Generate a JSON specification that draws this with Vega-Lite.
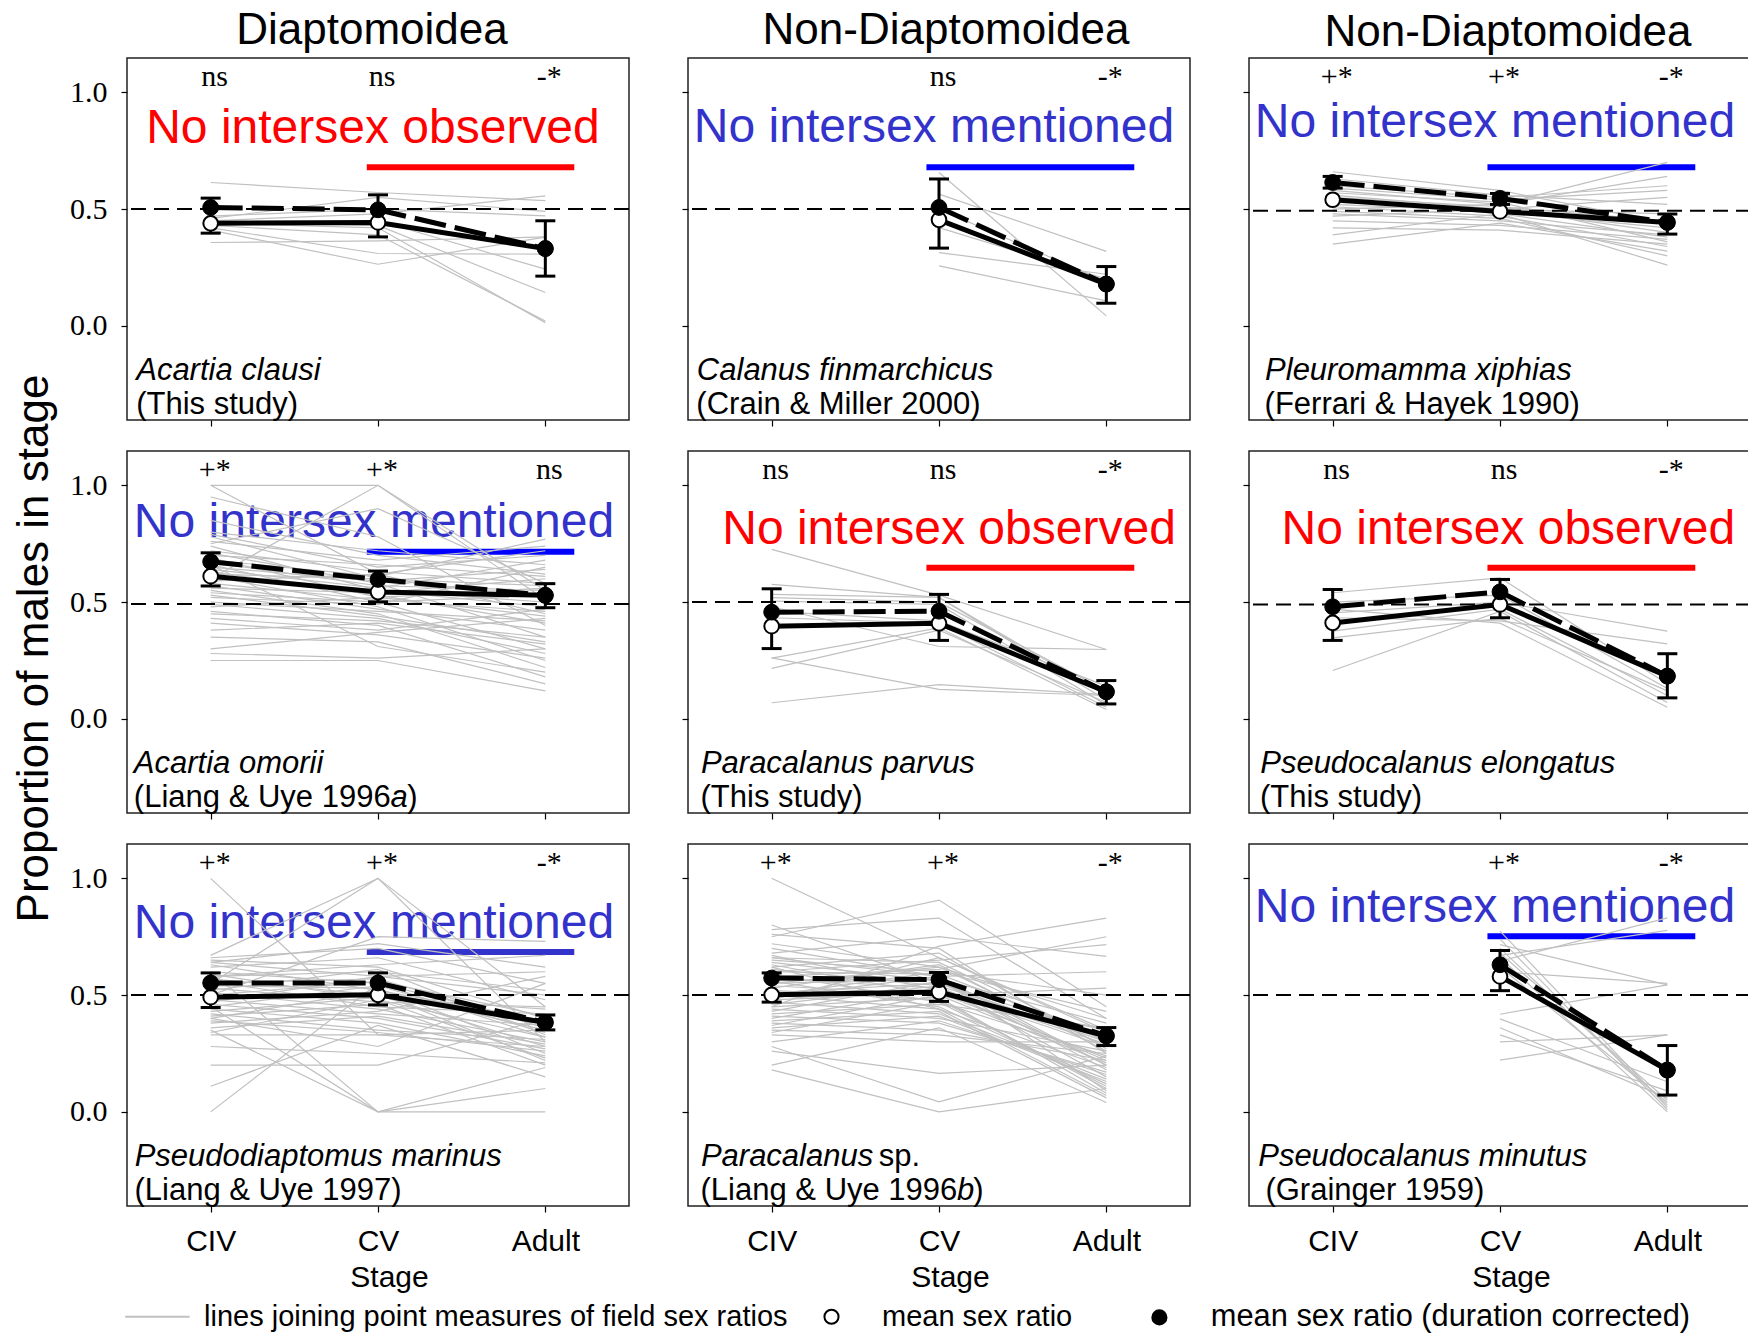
{
"$schema":"https://vega.github.io/schema/vega-lite/v6.json",
"background":"white",
"padding":{"left":11,"top":8,"right":0,"bottom":0},
"columns":3,
"spacing":{"row":31,"column":59},
"bounds":"flush",
"resolve":{"scale":{"x":"independent","y":"independent","fill":"independent","stroke":"independent","shape":"independent","color":"independent"},"axis":{"x":"independent","y":"independent"},"legend":{"fill":"independent","stroke":"independent","shape":"independent","color":"independent"}},
"config":{
 "view":{"stroke":"#222","strokeWidth":1.5},
 "font":"Liberation Sans",
 "title":{"font":"Liberation Sans","fontSize":44,"fontWeight":"normal","color":"black","anchor":"middle","baseline":"alphabetic","offset":5},
 "axis":{"domain":false,"grid":false,"tickColor":"black","tickWidth":1.2,"tickSize":6,"labelColor":"black","titleColor":"black","titleFontWeight":"normal","labelFlush":false,"labelOverlap":false},
 "axisX":{"labelFont":"Liberation Sans","labelFontSize":30,"labelPadding":14,"titleFont":"Liberation Sans","titleFontSize":30,"titlePadding":6,"titleX":262},
 "axisY":{"labelFont":"Liberation Serif","labelFontSize":30,"labelPadding":14,"titleFont":"Liberation Sans","titleFontSize":44,"titleX":-80,"titleY":197,"titleBaseline":"alphabetic"},
 "text":{"font":"Liberation Sans"}
},
"datasets":{
"stages":[{"k":"CIV","n":1},{"k":"CV","n":2},{"k":"Adult","n":3}],
"lines":[
{"p":1,"i":1,"CIV":0.614,"CV":0.571,"Adult":0.536},{"p":1,"i":2,"CIV":0.46,"CV":0.55,"Adult":0.49},{"p":1,"i":3,"CIV":0.45,"CV":0.48,"Adult":0.557},{"p":1,"i":4,"CIV":0.44,"CV":0.42,"Adult":0.014},{"p":1,"i":5,"CIV":0.43,"CV":0.39,"Adult":0.021},{"p":1,"i":6,"CIV":0.42,"CV":0.31,"Adult":0.307},{"p":1,"i":7,"CIV":0.357,"CV":0.364,"Adult":0.381},{"p":1,"i":8,"CIV":0.41,"CV":0.264,"Adult":0.38},{"p":1,"i":9,"CIV":0.45,"CV":0.43,"Adult":0.143},{"p":1,"i":10,"CIV":0.44,"CV":0.45,"Adult":0.243},{"p":1,"i":11,"CIV":0.47,"CV":0.5,"Adult":0.471},
{"p":2,"i":1,"CV":0.657,"Adult":0.043},{"p":2,"i":2,"CV":0.564,"Adult":0.319},{"p":2,"i":3,"CV":0.421,"Adult":0.2},{"p":2,"i":4,"CV":0.314,"Adult":0.221},{"p":2,"i":5,"CV":0.257,"Adult":0.107},{"p":2,"i":6,"CV":0.5,"Adult":0.19},
{"p":3,"i":1,"CIV":0.66,"CV":0.58,"Adult":0.44},{"p":3,"i":2,"CIV":0.63,"CV":0.56,"Adult":0.52},{"p":3,"i":3,"CIV":0.6,"CV":0.55,"Adult":0.6},{"p":3,"i":4,"CIV":0.58,"CV":0.52,"Adult":0.7},{"p":3,"i":5,"CIV":0.57,"CV":0.53,"Adult":0.36},{"p":3,"i":6,"CIV":0.56,"CV":0.5,"Adult":0.4},{"p":3,"i":7,"CIV":0.55,"CV":0.51,"Adult":0.45},{"p":3,"i":8,"CIV":0.54,"CV":0.48,"Adult":0.38},{"p":3,"i":9,"CIV":0.53,"CV":0.5,"Adult":0.55},{"p":3,"i":10,"CIV":0.52,"CV":0.49,"Adult":0.42},{"p":3,"i":11,"CIV":0.51,"CV":0.47,"Adult":0.34},{"p":3,"i":12,"CIV":0.5,"CV":0.52,"Adult":0.64},{"p":3,"i":13,"CIV":0.49,"CV":0.46,"Adult":0.3},{"p":3,"i":14,"CIV":0.48,"CV":0.45,"Adult":0.39},{"p":3,"i":15,"CIV":0.47,"CV":0.5,"Adult":0.48},{"p":3,"i":16,"CIV":0.42,"CV":0.41,"Adult":0.35},{"p":3,"i":17,"CIV":0.39,"CV":0.48,"Adult":0.26},{"p":3,"i":18,"CIV":0.35,"CV":0.44,"Adult":0.32},{"p":3,"i":19,"CIV":0.59,"CV":0.54,"Adult":0.58},{"p":3,"i":20,"CIV":0.45,"CV":0.43,"Adult":0.37},
{"p":4,"i":1,"CIV":1.0,"CV":1.0,"Adult":0.55},{"p":4,"i":2,"CIV":1.0,"CV":0.62,"Adult":0.45},{"p":4,"i":3,"CIV":0.95,"CV":0.78,"Adult":0.4},{"p":4,"i":4,"CIV":0.85,"CV":0.7,"Adult":0.62},{"p":4,"i":5,"CIV":0.8,"CV":0.72,"Adult":0.66},{"p":4,"i":6,"CIV":0.79,"CV":0.65,"Adult":0.7},{"p":4,"i":7,"CIV":0.78,"CV":0.6,"Adult":0.52},{"p":4,"i":8,"CIV":0.76,"CV":0.68,"Adult":0.74},{"p":4,"i":9,"CIV":0.74,"CV":0.55,"Adult":0.48},{"p":4,"i":10,"CIV":0.72,"CV":0.63,"Adult":0.58},{"p":4,"i":11,"CIV":0.71,"CV":0.58,"Adult":0.35},{"p":4,"i":12,"CIV":0.7,"CV":0.66,"Adult":0.61},{"p":4,"i":13,"CIV":0.69,"CV":0.52,"Adult":0.44},{"p":4,"i":14,"CIV":0.68,"CV":0.61,"Adult":0.77},{"p":4,"i":15,"CIV":0.67,"CV":0.57,"Adult":0.55},{"p":4,"i":16,"CIV":0.66,"CV":0.5,"Adult":0.3},{"p":4,"i":17,"CIV":0.65,"CV":0.59,"Adult":0.64},{"p":4,"i":18,"CIV":0.64,"CV":0.56,"Adult":0.68},{"p":4,"i":19,"CIV":0.63,"CV":0.53,"Adult":0.41},{"p":4,"i":20,"CIV":0.62,"CV":0.6,"Adult":0.57},{"p":4,"i":21,"CIV":0.61,"CV":0.48,"Adult":0.25},{"p":4,"i":22,"CIV":0.6,"CV":0.55,"Adult":0.5},{"p":4,"i":23,"CIV":0.59,"CV":0.62,"Adult":0.72},{"p":4,"i":24,"CIV":0.58,"CV":0.51,"Adult":0.46},{"p":4,"i":25,"CIV":0.57,"CV":0.47,"Adult":0.38},{"p":4,"i":26,"CIV":0.56,"CV":0.54,"Adult":0.6},{"p":4,"i":27,"CIV":0.55,"CV":0.45,"Adult":0.22},{"p":4,"i":28,"CIV":0.54,"CV":0.5,"Adult":0.53},{"p":4,"i":29,"CIV":0.53,"CV":0.44,"Adult":0.33},{"p":4,"i":30,"CIV":0.52,"CV":0.49,"Adult":0.65},{"p":4,"i":31,"CIV":0.5,"CV":0.46,"Adult":0.42},{"p":4,"i":32,"CIV":0.49,"CV":0.43,"Adult":0.28},{"p":4,"i":33,"CIV":0.48,"CV":0.52,"Adult":0.56},{"p":4,"i":34,"CIV":0.46,"CV":0.4,"Adult":0.18},{"p":4,"i":35,"CIV":0.45,"CV":0.42,"Adult":0.35},{"p":4,"i":36,"CIV":0.43,"CV":0.38,"Adult":0.47},{"p":4,"i":37,"CIV":0.41,"CV":0.36,"Adult":0.26},{"p":4,"i":38,"CIV":0.38,"CV":0.41,"Adult":0.32},{"p":4,"i":39,"CIV":0.35,"CV":0.33,"Adult":0.15},{"p":4,"i":40,"CIV":0.3,"CV":0.37,"Adult":0.43},{"p":4,"i":41,"CIV":0.28,"CV":0.26,"Adult":0.3},{"p":4,"i":42,"CIV":0.25,"CV":0.25,"Adult":0.12},{"p":4,"i":43,"CIV":0.6,"CV":1.0,"Adult":0.51},{"p":4,"i":44,"CIV":0.75,"CV":0.9,"Adult":0.58},{"p":4,"i":45,"CIV":0.66,"CV":0.31,"Adult":0.2},
{"p":5,"i":1,"CIV":0.726,"CV":0.53,"Adult":0.297},{"p":5,"i":2,"CIV":0.576,"CV":0.52,"Adult":0.1},{"p":5,"i":3,"CIV":0.533,"CV":0.52,"Adult":0.08},{"p":5,"i":4,"CIV":0.519,"CV":0.5,"Adult":0.12},{"p":5,"i":5,"CIV":0.504,"CV":0.49,"Adult":0.06},{"p":5,"i":6,"CIV":0.433,"CV":0.41,"Adult":0.05},{"p":5,"i":7,"CIV":0.26,"CV":0.39,"Adult":0.04},{"p":5,"i":8,"CIV":0.216,"CV":0.38,"Adult":0.07},{"p":5,"i":9,"CIV":0.069,"CV":0.147,"Adult":0.104},{"p":5,"i":10,"CIV":0.261,"CV":0.126,"Adult":0.1},{"p":5,"i":11,"CIV":0.46,"CV":0.42,"Adult":0.14},{"p":5,"i":12,"CIV":0.48,"CV":0.31,"Adult":0.297},
{"p":6,"i":1,"CIV":0.54,"CV":0.604,"Adult":0.15},{"p":6,"i":2,"CIV":0.454,"CV":0.5,"Adult":0.376},{"p":6,"i":3,"CIV":0.433,"CV":0.42,"Adult":0.321},{"p":6,"i":4,"CIV":0.376,"CV":0.47,"Adult":0.1},{"p":6,"i":5,"CIV":0.347,"CV":0.43,"Adult":0.12},{"p":6,"i":6,"CIV":0.207,"CV":0.46,"Adult":0.07},{"p":6,"i":7,"CIV":0.47,"CV":0.41,"Adult":0.05},{"p":6,"i":8,"CIV":0.5,"CV":0.53,"Adult":0.13},
{"p":7,"i":1,"CIV":1.0,"CV":0.33,"Adult":0.28},{"p":7,"i":2,"CIV":0.67,"CV":1.0,"Adult":0.45},{"p":7,"i":3,"CIV":0.55,"CV":1.0,"Adult":0.3},{"p":7,"i":4,"CIV":0.66,"CV":0.7,"Adult":0.55},{"p":7,"i":5,"CIV":0.65,"CV":0.62,"Adult":0.4},{"p":7,"i":6,"CIV":0.64,"CV":0.58,"Adult":0.6},{"p":7,"i":7,"CIV":0.63,"CV":0.52,"Adult":0.35},{"p":7,"i":8,"CIV":0.62,"CV":0.66,"Adult":0.48},{"p":7,"i":9,"CIV":0.6,"CV":0.55,"Adult":0.38},{"p":7,"i":10,"CIV":0.59,"CV":0.48,"Adult":0.32},{"p":7,"i":11,"CIV":0.58,"CV":0.6,"Adult":0.52},{"p":7,"i":12,"CIV":0.57,"CV":0.5,"Adult":0.28},{"p":7,"i":13,"CIV":0.56,"CV":0.45,"Adult":0.42},{"p":7,"i":14,"CIV":0.55,"CV":0.57,"Adult":0.36},{"p":7,"i":15,"CIV":0.54,"CV":0.53,"Adult":0.25},{"p":7,"i":16,"CIV":0.53,"CV":0.47,"Adult":0.45},{"p":7,"i":17,"CIV":0.52,"CV":0.61,"Adult":0.33},{"p":7,"i":18,"CIV":0.51,"CV":0.44,"Adult":0.3},{"p":7,"i":19,"CIV":0.5,"CV":0.56,"Adult":0.41},{"p":7,"i":20,"CIV":0.49,"CV":0.51,"Adult":0.22},{"p":7,"i":21,"CIV":0.48,"CV":0.42,"Adult":0.37},{"p":7,"i":22,"CIV":0.47,"CV":0.58,"Adult":0.5},{"p":7,"i":23,"CIV":0.46,"CV":0.4,"Adult":0.27},{"p":7,"i":24,"CIV":0.45,"CV":0.54,"Adult":0.34},{"p":7,"i":25,"CIV":0.44,"CV":0.38,"Adult":0.24},{"p":7,"i":26,"CIV":0.43,"CV":0.49,"Adult":0.44},{"p":7,"i":27,"CIV":0.42,"CV":0.35,"Adult":0.31},{"p":7,"i":28,"CIV":0.41,"CV":0.46,"Adult":0.2},{"p":7,"i":29,"CIV":0.4,"CV":0.52,"Adult":0.39},{"p":7,"i":30,"CIV":0.39,"CV":0.34,"Adult":0.26},{"p":7,"i":31,"CIV":0.38,"CV":0.43,"Adult":0.58},{"p":7,"i":32,"CIV":0.36,"CV":0.41,"Adult":0.29},{"p":7,"i":33,"CIV":0.34,"CV":0.48,"Adult":0.23},{"p":7,"i":34,"CIV":0.33,"CV":0.33,"Adult":0.35},{"p":7,"i":35,"CIV":0.28,"CV":0.25,"Adult":0.21},{"p":7,"i":36,"CIV":0.2,"CV":0.2,"Adult":0.4},{"p":7,"i":37,"CIV":0.11,"CV":0.37,"Adult":0.15},{"p":7,"i":38,"CIV":0.0,"CV":0.55,"Adult":0.32},{"p":7,"i":39,"CIV":0.35,"CV":0.0,"Adult":0.0},{"p":7,"i":40,"CIV":0.6,"CV":0.0,"Adult":0.19},{"p":7,"i":41,"CIV":0.45,"CV":0.0,"Adult":0.1},{"p":7,"i":42,"CIV":0.5,"CV":0.75,"Adult":0.73},{"p":7,"i":43,"CIV":0.64,"CV":0.72,"Adult":0.62},{"p":7,"i":44,"CIV":0.4,"CV":0.28,"Adult":0.55},{"p":7,"i":45,"CIV":0.58,"CV":0.63,"Adult":0.67},
{"p":8,"i":1,"CIV":1.0,"CV":0.66,"Adult":0.35},{"p":8,"i":2,"CIV":0.8,"CV":0.55,"Adult":0.3},{"p":8,"i":3,"CIV":0.78,"CV":0.83,"Adult":0.4},{"p":8,"i":4,"CIV":0.76,"CV":0.7,"Adult":0.25},{"p":8,"i":5,"CIV":0.75,"CV":0.907,"Adult":0.45},{"p":8,"i":6,"CIV":0.72,"CV":0.62,"Adult":0.28},{"p":8,"i":7,"CIV":0.7,"CV":0.58,"Adult":0.2},{"p":8,"i":8,"CIV":0.68,"CV":0.75,"Adult":0.666},{"p":8,"i":9,"CIV":0.67,"CV":0.52,"Adult":0.22},{"p":8,"i":10,"CIV":0.66,"CV":0.64,"Adult":0.3},{"p":8,"i":11,"CIV":0.65,"CV":0.6,"Adult":0.5},{"p":8,"i":12,"CIV":0.64,"CV":0.56,"Adult":0.18},{"p":8,"i":13,"CIV":0.63,"CV":0.5,"Adult":0.35},{"p":8,"i":14,"CIV":0.62,"CV":0.68,"Adult":0.27},{"p":8,"i":15,"CIV":0.61,"CV":0.54,"Adult":0.15},{"p":8,"i":16,"CIV":0.6,"CV":0.59,"Adult":0.32},{"p":8,"i":17,"CIV":0.59,"CV":0.47,"Adult":0.24},{"p":8,"i":18,"CIV":0.58,"CV":0.61,"Adult":0.75},{"p":8,"i":19,"CIV":0.57,"CV":0.53,"Adult":0.29},{"p":8,"i":20,"CIV":0.56,"CV":0.45,"Adult":0.12},{"p":8,"i":21,"CIV":0.55,"CV":0.57,"Adult":0.38},{"p":8,"i":22,"CIV":0.54,"CV":0.5,"Adult":0.21},{"p":8,"i":23,"CIV":0.53,"CV":0.63,"Adult":0.26},{"p":8,"i":24,"CIV":0.52,"CV":0.48,"Adult":0.1},{"p":8,"i":25,"CIV":0.51,"CV":0.55,"Adult":0.33},{"p":8,"i":26,"CIV":0.5,"CV":0.44,"Adult":0.19},{"p":8,"i":27,"CIV":0.49,"CV":0.58,"Adult":0.6},{"p":8,"i":28,"CIV":0.48,"CV":0.51,"Adult":0.23},{"p":8,"i":29,"CIV":0.47,"CV":0.42,"Adult":0.14},{"p":8,"i":30,"CIV":0.46,"CV":0.54,"Adult":0.31},{"p":8,"i":31,"CIV":0.45,"CV":0.49,"Adult":0.08},{"p":8,"i":32,"CIV":0.44,"CV":0.4,"Adult":0.26},{"p":8,"i":33,"CIV":0.43,"CV":0.56,"Adult":0.2},{"p":8,"i":34,"CIV":0.42,"CV":0.46,"Adult":0.36},{"p":8,"i":35,"CIV":0.41,"CV":0.38,"Adult":0.17},{"p":8,"i":36,"CIV":0.4,"CV":0.52,"Adult":0.28},{"p":8,"i":37,"CIV":0.39,"CV":0.43,"Adult":0.06},{"p":8,"i":38,"CIV":0.38,"CV":0.35,"Adult":0.22},{"p":8,"i":39,"CIV":0.37,"CV":0.5,"Adult":0.53},{"p":8,"i":40,"CIV":0.36,"CV":0.41,"Adult":0.13},{"p":8,"i":41,"CIV":0.35,"CV":0.33,"Adult":0.25},{"p":8,"i":42,"CIV":0.34,"CV":0.47,"Adult":0.11},{"p":8,"i":43,"CIV":0.33,"CV":0.3,"Adult":0.3},{"p":8,"i":44,"CIV":0.3,"CV":0.39,"Adult":0.16},{"p":8,"i":45,"CIV":0.26,"CV":0.165,"Adult":0.2},{"p":8,"i":46,"CIV":0.18,"CV":0.0,"Adult":0.1},{"p":8,"i":47,"CIV":0.2,"CV":0.36,"Adult":0.04},{"p":8,"i":48,"CIV":0.28,"CV":0.043,"Adult":0.24},{"p":8,"i":49,"CIV":0.45,"CV":0.71,"Adult":0.83},{"p":8,"i":50,"CIV":0.6,"CV":0.65,"Adult":0.716},{"p":8,"i":51,"CIV":0.5,"CV":0.6,"Adult":0.43},{"p":8,"i":52,"CIV":0.66,"CV":0.58,"Adult":0.09},{"p":8,"i":53,"CIV":0.55,"CV":0.62,"Adult":0.4},{"p":8,"i":54,"CIV":0.48,"CV":0.66,"Adult":0.34},{"p":8,"i":55,"CIV":0.62,"CV":0.44,"Adult":0.07},
{"p":9,"i":1,"CV":0.645,"Adult":0.831},{"p":9,"i":2,"CV":0.67,"Adult":0.777},{"p":9,"i":3,"CV":0.716,"Adult":0.544},{"p":9,"i":4,"CV":0.774,"Adult":0.02},{"p":9,"i":5,"CV":0.74,"Adult":0.01},{"p":9,"i":6,"CV":0.7,"Adult":0.03},{"p":9,"i":7,"CV":0.68,"Adult":0.05},{"p":9,"i":8,"CV":0.66,"Adult":0.0},{"p":9,"i":9,"CV":0.418,"Adult":0.544},{"p":9,"i":10,"CV":0.398,"Adult":0.129},{"p":9,"i":11,"CV":0.3,"Adult":0.33},{"p":9,"i":12,"CV":0.222,"Adult":0.33},{"p":9,"i":13,"CV":0.36,"Adult":0.06},{"p":9,"i":14,"CV":0.33,"Adult":0.09},{"p":9,"i":15,"CV":0.6,"Adult":0.55},{"p":9,"i":16,"CV":0.62,"Adult":0.04}
],
"means":[
{"p":1,"k":"mean","CIV":0.439,"CV":0.443,"Adult":0.331},{"p":1,"k":"corr","CIV":0.507,"CV":0.497,"Adult":0.331},
{"p":2,"k":"mean","CV":0.454,"Adult":0.179},{"p":2,"k":"corr","CV":0.507,"Adult":0.179},
{"p":3,"k":"mean","CIV":0.54,"CV":0.49,"Adult":0.443},{"p":3,"k":"corr","CIV":0.614,"CV":0.546,"Adult":0.443},
{"p":4,"k":"mean","CIV":0.611,"CV":0.543,"Adult":0.529},{"p":4,"k":"corr","CIV":0.673,"CV":0.597,"Adult":0.529},
{"p":5,"k":"mean","CIV":0.397,"CV":0.409,"Adult":0.116},{"p":5,"k":"corr","CIV":0.457,"CV":0.461,"Adult":0.116},
{"p":6,"k":"mean","CIV":0.411,"CV":0.49,"Adult":0.183},{"p":6,"k":"corr","CIV":0.48,"CV":0.544,"Adult":0.183},
{"p":7,"k":"mean","CIV":0.491,"CV":0.501,"Adult":0.383},{"p":7,"k":"corr","CIV":0.552,"CV":0.552,"Adult":0.383},
{"p":8,"k":"mean","CIV":0.501,"CV":0.513,"Adult":0.325},{"p":8,"k":"corr","CIV":0.573,"CV":0.566,"Adult":0.325},
{"p":9,"k":"mean","CV":0.58,"Adult":0.179},{"p":9,"k":"corr","CV":0.63,"Adult":0.179}
],
"err":[
{"p":1,"n":1,"lo":0.397,"hi":0.547},{"p":1,"n":2,"lo":0.381,"hi":0.561},{"p":1,"n":3,"lo":0.213,"hi":0.45},
{"p":2,"n":2,"lo":0.333,"hi":0.629},{"p":2,"n":3,"lo":0.097,"hi":0.254},
{"p":3,"n":1,"lo":0.59,"hi":0.64},{"p":3,"n":2,"lo":0.52,"hi":0.567},{"p":3,"n":3,"lo":0.393,"hi":0.479},
{"p":4,"n":1,"lo":0.569,"hi":0.711},{"p":4,"n":2,"lo":0.501,"hi":0.633},{"p":4,"n":3,"lo":0.476,"hi":0.579},
{"p":5,"n":1,"lo":0.301,"hi":0.557},{"p":5,"n":2,"lo":0.336,"hi":0.533},{"p":5,"n":3,"lo":0.064,"hi":0.164},
{"p":6,"n":1,"lo":0.336,"hi":0.554},{"p":6,"n":2,"lo":0.433,"hi":0.597},{"p":6,"n":3,"lo":0.09,"hi":0.279},
{"p":7,"n":1,"lo":0.447,"hi":0.595},{"p":7,"n":2,"lo":0.458,"hi":0.595},{"p":7,"n":3,"lo":0.351,"hi":0.415},
{"p":8,"n":1,"lo":0.47,"hi":0.595},{"p":8,"n":2,"lo":0.473,"hi":0.597},{"p":8,"n":3,"lo":0.284,"hi":0.361},
{"p":9,"n":2,"lo":0.519,"hi":0.691},{"p":9,"n":3,"lo":0.072,"hi":0.284}
],
"ref":[{"p":1,"v":0.5},{"p":2,"v":0.5},{"p":3,"v":0.493},{"p":4,"v":0.492},{"p":5,"v":0.5},{"p":6,"v":0.49},{"p":7,"v":0.5},{"p":8,"v":0.5},{"p":9,"v":0.5}],
"sig":[
{"p":1,"n":1,"lab":"ns"},{"p":1,"n":2,"lab":"ns"},{"p":1,"n":3,"lab":"-*"},
{"p":2,"n":2,"lab":"ns"},{"p":2,"n":3,"lab":"-*"},
{"p":3,"n":1,"lab":"+*"},{"p":3,"n":2,"lab":"+*"},{"p":3,"n":3,"lab":"-*"},
{"p":4,"n":1,"lab":"+*"},{"p":4,"n":2,"lab":"+*"},{"p":4,"n":3,"lab":"ns"},
{"p":5,"n":1,"lab":"ns"},{"p":5,"n":2,"lab":"ns"},{"p":5,"n":3,"lab":"-*"},
{"p":6,"n":1,"lab":"ns"},{"p":6,"n":2,"lab":"ns"},{"p":6,"n":3,"lab":"-*"},
{"p":7,"n":1,"lab":"+*"},{"p":7,"n":2,"lab":"+*"},{"p":7,"n":3,"lab":"-*"},
{"p":8,"n":1,"lab":"+*"},{"p":8,"n":2,"lab":"+*"},{"p":8,"n":3,"lab":"-*"},
{"p":9,"n":2,"lab":"+*"},{"p":9,"n":3,"lab":"-*"}
],
"note":[
{"p":1,"x":1.97,"y":0.781,"lab":"No intersex observed"},
{"p":2,"x":1.97,"y":0.786,"lab":"No intersex mentioned"},
{"p":3,"x":1.97,"y":0.81,"lab":"No intersex mentioned"},
{"p":4,"x":1.976,"y":0.779,"lab":"No intersex mentioned"},
{"p":5,"x":2.06,"y":0.75,"lab":"No intersex observed"},
{"p":6,"x":2.05,"y":0.75,"lab":"No intersex observed"},
{"p":7,"x":1.976,"y":0.745,"lab":"No intersex mentioned"},
{"p":9,"x":1.97,"y":0.814,"lab":"No intersex mentioned"}
],
"bar":[
{"p":1,"x":1.933,"x2":3.173,"y":0.679},{"p":2,"x":1.925,"x2":3.167,"y":0.679},{"p":3,"x":1.925,"x2":3.167,"y":0.679},
{"p":4,"x":1.933,"x2":3.173,"y":0.716},{"p":5,"x":1.925,"x2":3.167,"y":0.647},{"p":6,"x":1.925,"x2":3.167,"y":0.647},
{"p":7,"x":1.933,"x2":3.173,"y":0.685},{"p":9,"x":1.925,"x2":3.167,"y":0.752}
],
"it":[
{"p":1,"x":0.555,"y":-0.232,"lab":"Acartia clausi"},
{"p":2,"x":0.553,"y":-0.232,"lab":"Calanus finmarchicus"},
{"p":3,"x":0.596,"y":-0.232,"lab":"Pleuromamma xiphias"},
{"p":4,"x":0.541,"y":-0.232,"lab":"Acartia omorii"},
{"p":4,"x":2.075,"y":-0.377,"lab":"a"},
{"p":5,"x":0.577,"y":-0.232,"lab":"Paracalanus parvus"},
{"p":6,"x":0.567,"y":-0.232,"lab":"Pseudocalanus elongatus"},
{"p":7,"x":0.546,"y":-0.232,"lab":"Pseudodiaptomus marinus"},
{"p":8,"x":0.577,"y":-0.232,"lab":"Paracalanus"},
{"p":8,"x":2.108,"y":-0.377,"lab":"b"},
{"p":9,"x":0.555,"y":-0.232,"lab":"Pseudocalanus minutus"}
],
"up":[
{"p":1,"x":0.555,"y":-0.377,"lab":"(This study)"},
{"p":2,"x":0.55,"y":-0.377,"lab":"(Crain & Miller 2000)"},
{"p":3,"x":0.593,"y":-0.377,"lab":"(Ferrari & Hayek 1990)"},
{"p":4,"x":0.541,"y":-0.377,"lab":"(Liang & Uye 1996"},
{"p":4,"x":2.175,"y":-0.377,"lab":")"},
{"p":5,"x":0.575,"y":-0.377,"lab":"(This study)"},
{"p":6,"x":0.566,"y":-0.377,"lab":"(This study)"},
{"p":7,"x":0.545,"y":-0.377,"lab":"(Liang & Uye 1997)"},
{"p":8,"x":1.64,"y":-0.232,"lab":"sp."},
{"p":8,"x":0.575,"y":-0.377,"lab":"(Liang & Uye 1996"},
{"p":8,"x":2.205,"y":-0.377,"lab":")"},
{"p":9,"x":0.598,"y":-0.377,"lab":"(Grainger 1959)"}
]
},
"concat":[
{"width":502,"height":362,"title":{"text":"Diaptomoidea","dx":-6},"layer":[
{"data":{"name":"note"},"transform":[{"filter":"datum.p==1"}],"mark":{"type":"text","color":"#ff0000","fontSize":48,"align":"center","baseline":"alphabetic"},"encoding":{"x":{"field":"x","type":"quantitative"},"y":{"field":"y","type":"quantitative"},"text":{"field":"lab"}}},
{"data":{"name":"bar"},"transform":[{"filter":"datum.p==1"}],"mark":{"type":"rule","color":"#ff0000","strokeWidth":6},"encoding":{"x":{"field":"x","type":"quantitative"},"x2":{"field":"x2"},"y":{"field":"y","type":"quantitative"}}},
{"data":{"name":"lines"},"transform":[{"filter":"datum.p==1"},{"fold":["CIV","CV","Adult"],"as":["k","v"]},{"filter":"isValid(datum.v)"},{"lookup":"k","from":{"data":{"name":"stages"},"key":"k","fields":["n"]}}],"mark":{"type":"line","color":"#c0c0c0","strokeWidth":1.2},"encoding":{"x":{"field":"n","type":"quantitative","scale":{"domain":[0.5,3.5],"nice":false,"zero":false},"axis":{"values":[1,2,3],"labels":false,"title":null}},"y":{"field":"v","type":"quantitative","scale":{"domain":[-0.403,1.147],"nice":false,"zero":false},"axis":{"values":[0,0.5,1],"format":".1f","title":null}},"detail":{"field":"i"}}},
{"data":{"name":"ref"},"transform":[{"filter":"datum.p==1"}],"mark":{"type":"rule","color":"black","strokeWidth":2,"strokeDash":[15,8]},"encoding":{"y":{"field":"v","type":"quantitative"}}},
{"data":{"name":"err"},"transform":[{"filter":"datum.p==1"}],"mark":{"type":"rule","color":"black","strokeWidth":3},"encoding":{"x":{"field":"n","type":"quantitative"},"y":{"field":"lo","type":"quantitative"},"y2":{"field":"hi"}}},
{"data":{"name":"err"},"transform":[{"filter":"datum.p==1"}],"mark":{"type":"tick","orient":"horizontal","color":"black","size":20,"thickness":3,"opacity":1},"encoding":{"x":{"field":"n","type":"quantitative"},"y":{"field":"lo","type":"quantitative"}}},
{"data":{"name":"err"},"transform":[{"filter":"datum.p==1"}],"mark":{"type":"tick","orient":"horizontal","color":"black","size":20,"thickness":3,"opacity":1},"encoding":{"x":{"field":"n","type":"quantitative"},"y":{"field":"hi","type":"quantitative"}}},
{"data":{"name":"means"},"transform":[{"filter":"datum.p==1 && datum.k=='mean'"},{"fold":["CIV","CV","Adult"],"as":["s","v"]},{"filter":"isValid(datum.v)"},{"lookup":"s","from":{"data":{"name":"stages"},"key":"k","fields":["n"]}}],"mark":{"type":"line","color":"black","strokeWidth":5},"encoding":{"x":{"field":"n","type":"quantitative"},"y":{"field":"v","type":"quantitative"}}},
{"data":{"name":"means"},"transform":[{"filter":"datum.p==1 && datum.k=='corr'"},{"fold":["CIV","CV","Adult"],"as":["s","v"]},{"filter":"isValid(datum.v)"},{"lookup":"s","from":{"data":{"name":"stages"},"key":"k","fields":["n"]}}],"mark":{"type":"line","color":"black","strokeWidth":5,"strokeDash":[32,9]},"encoding":{"x":{"field":"n","type":"quantitative"},"y":{"field":"v","type":"quantitative"}}},
{"data":{"name":"means"},"transform":[{"filter":"datum.p==1 && datum.k=='mean'"},{"fold":["CIV","CV","Adult"],"as":["s","v"]},{"filter":"isValid(datum.v)"},{"lookup":"s","from":{"data":{"name":"stages"},"key":"k","fields":["n"]}}],"mark":{"type":"point","shape":"circle","filled":true,"fill":"white","stroke":"black","strokeWidth":2,"size":215,"opacity":1},"encoding":{"x":{"field":"n","type":"quantitative"},"y":{"field":"v","type":"quantitative"}}},
{"data":{"name":"means"},"transform":[{"filter":"datum.p==1 && datum.k=='corr'"},{"fold":["CIV","CV","Adult"],"as":["s","v"]},{"filter":"isValid(datum.v)"},{"lookup":"s","from":{"data":{"name":"stages"},"key":"k","fields":["n"]}}],"mark":{"type":"point","shape":"circle","filled":true,"fill":"black","stroke":"black","strokeWidth":1,"size":250,"opacity":1},"encoding":{"x":{"field":"n","type":"quantitative"},"y":{"field":"v","type":"quantitative"}}},
{"data":{"name":"sig"},"transform":[{"filter":"datum.p==1"}],"mark":{"type":"text","font":"Liberation Serif","fontSize":30,"align":"center","baseline":"alphabetic","dx":4,"color":"black"},"encoding":{"x":{"field":"n","type":"quantitative"},"y":{"datum":1.025,"type":"quantitative"},"text":{"field":"lab"}}},
{"data":{"name":"it"},"transform":[{"filter":"datum.p==1"}],"mark":{"type":"text","fontStyle":"italic","fontSize":31,"align":"left","baseline":"alphabetic","color":"black"},"encoding":{"x":{"field":"x","type":"quantitative"},"y":{"field":"y","type":"quantitative"},"text":{"field":"lab"}}},
{"data":{"name":"up"},"transform":[{"filter":"datum.p==1"}],"mark":{"type":"text","fontSize":31,"align":"left","baseline":"alphabetic","color":"black"},"encoding":{"x":{"field":"x","type":"quantitative"},"y":{"field":"y","type":"quantitative"},"text":{"field":"lab"}}}
]},
{"width":502,"height":362,"title":{"text":"Non-Diaptomoidea","dx":7},"layer":[
{"data":{"name":"note"},"transform":[{"filter":"datum.p==2"}],"mark":{"type":"text","color":"#3333cc","fontSize":48,"align":"center","baseline":"alphabetic"},"encoding":{"x":{"field":"x","type":"quantitative"},"y":{"field":"y","type":"quantitative"},"text":{"field":"lab"}}},
{"data":{"name":"bar"},"transform":[{"filter":"datum.p==2"}],"mark":{"type":"rule","color":"#0000ff","strokeWidth":6},"encoding":{"x":{"field":"x","type":"quantitative"},"x2":{"field":"x2"},"y":{"field":"y","type":"quantitative"}}},
{"data":{"name":"lines"},"transform":[{"filter":"datum.p==2"},{"fold":["CIV","CV","Adult"],"as":["k","v"]},{"filter":"isValid(datum.v)"},{"lookup":"k","from":{"data":{"name":"stages"},"key":"k","fields":["n"]}}],"mark":{"type":"line","color":"#c0c0c0","strokeWidth":1.2},"encoding":{"x":{"field":"n","type":"quantitative","scale":{"domain":[0.5,3.5],"nice":false,"zero":false},"axis":{"values":[1,2,3],"labels":false,"title":null}},"y":{"field":"v","type":"quantitative","scale":{"domain":[-0.403,1.147],"nice":false,"zero":false},"axis":{"values":[0,0.5,1],"labels":false,"title":null}},"detail":{"field":"i"}}},
{"data":{"name":"ref"},"transform":[{"filter":"datum.p==2"}],"mark":{"type":"rule","color":"black","strokeWidth":2,"strokeDash":[15,8]},"encoding":{"y":{"field":"v","type":"quantitative"}}},
{"data":{"name":"err"},"transform":[{"filter":"datum.p==2"}],"mark":{"type":"rule","color":"black","strokeWidth":3},"encoding":{"x":{"field":"n","type":"quantitative"},"y":{"field":"lo","type":"quantitative"},"y2":{"field":"hi"}}},
{"data":{"name":"err"},"transform":[{"filter":"datum.p==2"}],"mark":{"type":"tick","orient":"horizontal","color":"black","size":20,"thickness":3,"opacity":1},"encoding":{"x":{"field":"n","type":"quantitative"},"y":{"field":"lo","type":"quantitative"}}},
{"data":{"name":"err"},"transform":[{"filter":"datum.p==2"}],"mark":{"type":"tick","orient":"horizontal","color":"black","size":20,"thickness":3,"opacity":1},"encoding":{"x":{"field":"n","type":"quantitative"},"y":{"field":"hi","type":"quantitative"}}},
{"data":{"name":"means"},"transform":[{"filter":"datum.p==2 && datum.k=='mean'"},{"fold":["CIV","CV","Adult"],"as":["s","v"]},{"filter":"isValid(datum.v)"},{"lookup":"s","from":{"data":{"name":"stages"},"key":"k","fields":["n"]}}],"mark":{"type":"line","color":"black","strokeWidth":5},"encoding":{"x":{"field":"n","type":"quantitative"},"y":{"field":"v","type":"quantitative"}}},
{"data":{"name":"means"},"transform":[{"filter":"datum.p==2 && datum.k=='corr'"},{"fold":["CIV","CV","Adult"],"as":["s","v"]},{"filter":"isValid(datum.v)"},{"lookup":"s","from":{"data":{"name":"stages"},"key":"k","fields":["n"]}}],"mark":{"type":"line","color":"black","strokeWidth":5,"strokeDash":[32,9]},"encoding":{"x":{"field":"n","type":"quantitative"},"y":{"field":"v","type":"quantitative"}}},
{"data":{"name":"means"},"transform":[{"filter":"datum.p==2 && datum.k=='mean'"},{"fold":["CIV","CV","Adult"],"as":["s","v"]},{"filter":"isValid(datum.v)"},{"lookup":"s","from":{"data":{"name":"stages"},"key":"k","fields":["n"]}}],"mark":{"type":"point","shape":"circle","filled":true,"fill":"white","stroke":"black","strokeWidth":2,"size":215,"opacity":1},"encoding":{"x":{"field":"n","type":"quantitative"},"y":{"field":"v","type":"quantitative"}}},
{"data":{"name":"means"},"transform":[{"filter":"datum.p==2 && datum.k=='corr'"},{"fold":["CIV","CV","Adult"],"as":["s","v"]},{"filter":"isValid(datum.v)"},{"lookup":"s","from":{"data":{"name":"stages"},"key":"k","fields":["n"]}}],"mark":{"type":"point","shape":"circle","filled":true,"fill":"black","stroke":"black","strokeWidth":1,"size":250,"opacity":1},"encoding":{"x":{"field":"n","type":"quantitative"},"y":{"field":"v","type":"quantitative"}}},
{"data":{"name":"sig"},"transform":[{"filter":"datum.p==2"}],"mark":{"type":"text","font":"Liberation Serif","fontSize":30,"align":"center","baseline":"alphabetic","dx":4,"color":"black"},"encoding":{"x":{"field":"n","type":"quantitative"},"y":{"datum":1.025,"type":"quantitative"},"text":{"field":"lab"}}},
{"data":{"name":"it"},"transform":[{"filter":"datum.p==2"}],"mark":{"type":"text","fontStyle":"italic","fontSize":31,"align":"left","baseline":"alphabetic","color":"black"},"encoding":{"x":{"field":"x","type":"quantitative"},"y":{"field":"y","type":"quantitative"},"text":{"field":"lab"}}},
{"data":{"name":"up"},"transform":[{"filter":"datum.p==2"}],"mark":{"type":"text","fontSize":31,"align":"left","baseline":"alphabetic","color":"black"},"encoding":{"x":{"field":"x","type":"quantitative"},"y":{"field":"y","type":"quantitative"},"text":{"field":"lab"}}}
]},
{"width":502,"height":362,"title":{"text":"Non-Diaptomoidea","dx":8,"dy":2},"layer":[
{"data":{"name":"note"},"transform":[{"filter":"datum.p==3"}],"mark":{"type":"text","color":"#3333cc","fontSize":48,"align":"center","baseline":"alphabetic"},"encoding":{"x":{"field":"x","type":"quantitative"},"y":{"field":"y","type":"quantitative"},"text":{"field":"lab"}}},
{"data":{"name":"bar"},"transform":[{"filter":"datum.p==3"}],"mark":{"type":"rule","color":"#0000ff","strokeWidth":6},"encoding":{"x":{"field":"x","type":"quantitative"},"x2":{"field":"x2"},"y":{"field":"y","type":"quantitative"}}},
{"data":{"name":"lines"},"transform":[{"filter":"datum.p==3"},{"fold":["CIV","CV","Adult"],"as":["k","v"]},{"filter":"isValid(datum.v)"},{"lookup":"k","from":{"data":{"name":"stages"},"key":"k","fields":["n"]}}],"mark":{"type":"line","color":"#c0c0c0","strokeWidth":1.2},"encoding":{"x":{"field":"n","type":"quantitative","scale":{"domain":[0.5,3.5],"nice":false,"zero":false},"axis":{"values":[1,2,3],"labels":false,"title":null}},"y":{"field":"v","type":"quantitative","scale":{"domain":[-0.403,1.147],"nice":false,"zero":false},"axis":{"values":[0,0.5,1],"labels":false,"title":null}},"detail":{"field":"i"}}},
{"data":{"name":"ref"},"transform":[{"filter":"datum.p==3"}],"mark":{"type":"rule","color":"black","strokeWidth":2,"strokeDash":[15,8]},"encoding":{"y":{"field":"v","type":"quantitative"}}},
{"data":{"name":"err"},"transform":[{"filter":"datum.p==3"}],"mark":{"type":"rule","color":"black","strokeWidth":3},"encoding":{"x":{"field":"n","type":"quantitative"},"y":{"field":"lo","type":"quantitative"},"y2":{"field":"hi"}}},
{"data":{"name":"err"},"transform":[{"filter":"datum.p==3"}],"mark":{"type":"tick","orient":"horizontal","color":"black","size":20,"thickness":3,"opacity":1},"encoding":{"x":{"field":"n","type":"quantitative"},"y":{"field":"lo","type":"quantitative"}}},
{"data":{"name":"err"},"transform":[{"filter":"datum.p==3"}],"mark":{"type":"tick","orient":"horizontal","color":"black","size":20,"thickness":3,"opacity":1},"encoding":{"x":{"field":"n","type":"quantitative"},"y":{"field":"hi","type":"quantitative"}}},
{"data":{"name":"means"},"transform":[{"filter":"datum.p==3 && datum.k=='mean'"},{"fold":["CIV","CV","Adult"],"as":["s","v"]},{"filter":"isValid(datum.v)"},{"lookup":"s","from":{"data":{"name":"stages"},"key":"k","fields":["n"]}}],"mark":{"type":"line","color":"black","strokeWidth":5},"encoding":{"x":{"field":"n","type":"quantitative"},"y":{"field":"v","type":"quantitative"}}},
{"data":{"name":"means"},"transform":[{"filter":"datum.p==3 && datum.k=='corr'"},{"fold":["CIV","CV","Adult"],"as":["s","v"]},{"filter":"isValid(datum.v)"},{"lookup":"s","from":{"data":{"name":"stages"},"key":"k","fields":["n"]}}],"mark":{"type":"line","color":"black","strokeWidth":5,"strokeDash":[32,9]},"encoding":{"x":{"field":"n","type":"quantitative"},"y":{"field":"v","type":"quantitative"}}},
{"data":{"name":"means"},"transform":[{"filter":"datum.p==3 && datum.k=='mean'"},{"fold":["CIV","CV","Adult"],"as":["s","v"]},{"filter":"isValid(datum.v)"},{"lookup":"s","from":{"data":{"name":"stages"},"key":"k","fields":["n"]}}],"mark":{"type":"point","shape":"circle","filled":true,"fill":"white","stroke":"black","strokeWidth":2,"size":215,"opacity":1},"encoding":{"x":{"field":"n","type":"quantitative"},"y":{"field":"v","type":"quantitative"}}},
{"data":{"name":"means"},"transform":[{"filter":"datum.p==3 && datum.k=='corr'"},{"fold":["CIV","CV","Adult"],"as":["s","v"]},{"filter":"isValid(datum.v)"},{"lookup":"s","from":{"data":{"name":"stages"},"key":"k","fields":["n"]}}],"mark":{"type":"point","shape":"circle","filled":true,"fill":"black","stroke":"black","strokeWidth":1,"size":250,"opacity":1},"encoding":{"x":{"field":"n","type":"quantitative"},"y":{"field":"v","type":"quantitative"}}},
{"data":{"name":"sig"},"transform":[{"filter":"datum.p==3"}],"mark":{"type":"text","font":"Liberation Serif","fontSize":30,"align":"center","baseline":"alphabetic","dx":4,"color":"black"},"encoding":{"x":{"field":"n","type":"quantitative"},"y":{"datum":1.025,"type":"quantitative"},"text":{"field":"lab"}}},
{"data":{"name":"it"},"transform":[{"filter":"datum.p==3"}],"mark":{"type":"text","fontStyle":"italic","fontSize":31,"align":"left","baseline":"alphabetic","color":"black"},"encoding":{"x":{"field":"x","type":"quantitative"},"y":{"field":"y","type":"quantitative"},"text":{"field":"lab"}}},
{"data":{"name":"up"},"transform":[{"filter":"datum.p==3"}],"mark":{"type":"text","fontSize":31,"align":"left","baseline":"alphabetic","color":"black"},"encoding":{"x":{"field":"x","type":"quantitative"},"y":{"field":"y","type":"quantitative"},"text":{"field":"lab"}}}
]},
{"width":502,"height":362,"layer":[
{"data":{"name":"note"},"transform":[{"filter":"datum.p==4"}],"mark":{"type":"text","color":"#3333cc","fontSize":48,"align":"center","baseline":"alphabetic"},"encoding":{"x":{"field":"x","type":"quantitative"},"y":{"field":"y","type":"quantitative"},"text":{"field":"lab"}}},
{"data":{"name":"bar"},"transform":[{"filter":"datum.p==4"}],"mark":{"type":"rule","color":"#0000ff","strokeWidth":6},"encoding":{"x":{"field":"x","type":"quantitative"},"x2":{"field":"x2"},"y":{"field":"y","type":"quantitative"}}},
{"data":{"name":"lines"},"transform":[{"filter":"datum.p==4"},{"fold":["CIV","CV","Adult"],"as":["k","v"]},{"filter":"isValid(datum.v)"},{"lookup":"k","from":{"data":{"name":"stages"},"key":"k","fields":["n"]}}],"mark":{"type":"line","color":"#c0c0c0","strokeWidth":1.2},"encoding":{"x":{"field":"n","type":"quantitative","scale":{"domain":[0.5,3.5],"nice":false,"zero":false},"axis":{"values":[1,2,3],"labels":false,"title":null}},"y":{"field":"v","type":"quantitative","scale":{"domain":[-0.403,1.147],"nice":false,"zero":false},"axis":{"values":[0,0.5,1],"format":".1f","title":"Proportion of males in stage"}},"detail":{"field":"i"}}},
{"data":{"name":"ref"},"transform":[{"filter":"datum.p==4"}],"mark":{"type":"rule","color":"black","strokeWidth":2,"strokeDash":[15,8]},"encoding":{"y":{"field":"v","type":"quantitative"}}},
{"data":{"name":"err"},"transform":[{"filter":"datum.p==4"}],"mark":{"type":"rule","color":"black","strokeWidth":3},"encoding":{"x":{"field":"n","type":"quantitative"},"y":{"field":"lo","type":"quantitative"},"y2":{"field":"hi"}}},
{"data":{"name":"err"},"transform":[{"filter":"datum.p==4"}],"mark":{"type":"tick","orient":"horizontal","color":"black","size":20,"thickness":3,"opacity":1},"encoding":{"x":{"field":"n","type":"quantitative"},"y":{"field":"lo","type":"quantitative"}}},
{"data":{"name":"err"},"transform":[{"filter":"datum.p==4"}],"mark":{"type":"tick","orient":"horizontal","color":"black","size":20,"thickness":3,"opacity":1},"encoding":{"x":{"field":"n","type":"quantitative"},"y":{"field":"hi","type":"quantitative"}}},
{"data":{"name":"means"},"transform":[{"filter":"datum.p==4 && datum.k=='mean'"},{"fold":["CIV","CV","Adult"],"as":["s","v"]},{"filter":"isValid(datum.v)"},{"lookup":"s","from":{"data":{"name":"stages"},"key":"k","fields":["n"]}}],"mark":{"type":"line","color":"black","strokeWidth":5},"encoding":{"x":{"field":"n","type":"quantitative"},"y":{"field":"v","type":"quantitative"}}},
{"data":{"name":"means"},"transform":[{"filter":"datum.p==4 && datum.k=='corr'"},{"fold":["CIV","CV","Adult"],"as":["s","v"]},{"filter":"isValid(datum.v)"},{"lookup":"s","from":{"data":{"name":"stages"},"key":"k","fields":["n"]}}],"mark":{"type":"line","color":"black","strokeWidth":5,"strokeDash":[32,9]},"encoding":{"x":{"field":"n","type":"quantitative"},"y":{"field":"v","type":"quantitative"}}},
{"data":{"name":"means"},"transform":[{"filter":"datum.p==4 && datum.k=='mean'"},{"fold":["CIV","CV","Adult"],"as":["s","v"]},{"filter":"isValid(datum.v)"},{"lookup":"s","from":{"data":{"name":"stages"},"key":"k","fields":["n"]}}],"mark":{"type":"point","shape":"circle","filled":true,"fill":"white","stroke":"black","strokeWidth":2,"size":215,"opacity":1},"encoding":{"x":{"field":"n","type":"quantitative"},"y":{"field":"v","type":"quantitative"}}},
{"data":{"name":"means"},"transform":[{"filter":"datum.p==4 && datum.k=='corr'"},{"fold":["CIV","CV","Adult"],"as":["s","v"]},{"filter":"isValid(datum.v)"},{"lookup":"s","from":{"data":{"name":"stages"},"key":"k","fields":["n"]}}],"mark":{"type":"point","shape":"circle","filled":true,"fill":"black","stroke":"black","strokeWidth":1,"size":250,"opacity":1},"encoding":{"x":{"field":"n","type":"quantitative"},"y":{"field":"v","type":"quantitative"}}},
{"data":{"name":"sig"},"transform":[{"filter":"datum.p==4"}],"mark":{"type":"text","font":"Liberation Serif","fontSize":30,"align":"center","baseline":"alphabetic","dx":4,"color":"black"},"encoding":{"x":{"field":"n","type":"quantitative"},"y":{"datum":1.025,"type":"quantitative"},"text":{"field":"lab"}}},
{"data":{"name":"it"},"transform":[{"filter":"datum.p==4"}],"mark":{"type":"text","fontStyle":"italic","fontSize":31,"align":"left","baseline":"alphabetic","color":"black"},"encoding":{"x":{"field":"x","type":"quantitative"},"y":{"field":"y","type":"quantitative"},"text":{"field":"lab"}}},
{"data":{"name":"up"},"transform":[{"filter":"datum.p==4"}],"mark":{"type":"text","fontSize":31,"align":"left","baseline":"alphabetic","color":"black"},"encoding":{"x":{"field":"x","type":"quantitative"},"y":{"field":"y","type":"quantitative"},"text":{"field":"lab"}}}
]},
{"width":502,"height":362,"layer":[
{"data":{"name":"note"},"transform":[{"filter":"datum.p==5"}],"mark":{"type":"text","color":"#ff0000","fontSize":48,"align":"center","baseline":"alphabetic"},"encoding":{"x":{"field":"x","type":"quantitative"},"y":{"field":"y","type":"quantitative"},"text":{"field":"lab"}}},
{"data":{"name":"bar"},"transform":[{"filter":"datum.p==5"}],"mark":{"type":"rule","color":"#ff0000","strokeWidth":6},"encoding":{"x":{"field":"x","type":"quantitative"},"x2":{"field":"x2"},"y":{"field":"y","type":"quantitative"}}},
{"data":{"name":"lines"},"transform":[{"filter":"datum.p==5"},{"fold":["CIV","CV","Adult"],"as":["k","v"]},{"filter":"isValid(datum.v)"},{"lookup":"k","from":{"data":{"name":"stages"},"key":"k","fields":["n"]}}],"mark":{"type":"line","color":"#c0c0c0","strokeWidth":1.2},"encoding":{"x":{"field":"n","type":"quantitative","scale":{"domain":[0.5,3.5],"nice":false,"zero":false},"axis":{"values":[1,2,3],"labels":false,"title":null}},"y":{"field":"v","type":"quantitative","scale":{"domain":[-0.403,1.147],"nice":false,"zero":false},"axis":{"values":[0,0.5,1],"labels":false,"title":null}},"detail":{"field":"i"}}},
{"data":{"name":"ref"},"transform":[{"filter":"datum.p==5"}],"mark":{"type":"rule","color":"black","strokeWidth":2,"strokeDash":[15,8]},"encoding":{"y":{"field":"v","type":"quantitative"}}},
{"data":{"name":"err"},"transform":[{"filter":"datum.p==5"}],"mark":{"type":"rule","color":"black","strokeWidth":3},"encoding":{"x":{"field":"n","type":"quantitative"},"y":{"field":"lo","type":"quantitative"},"y2":{"field":"hi"}}},
{"data":{"name":"err"},"transform":[{"filter":"datum.p==5"}],"mark":{"type":"tick","orient":"horizontal","color":"black","size":20,"thickness":3,"opacity":1},"encoding":{"x":{"field":"n","type":"quantitative"},"y":{"field":"lo","type":"quantitative"}}},
{"data":{"name":"err"},"transform":[{"filter":"datum.p==5"}],"mark":{"type":"tick","orient":"horizontal","color":"black","size":20,"thickness":3,"opacity":1},"encoding":{"x":{"field":"n","type":"quantitative"},"y":{"field":"hi","type":"quantitative"}}},
{"data":{"name":"means"},"transform":[{"filter":"datum.p==5 && datum.k=='mean'"},{"fold":["CIV","CV","Adult"],"as":["s","v"]},{"filter":"isValid(datum.v)"},{"lookup":"s","from":{"data":{"name":"stages"},"key":"k","fields":["n"]}}],"mark":{"type":"line","color":"black","strokeWidth":5},"encoding":{"x":{"field":"n","type":"quantitative"},"y":{"field":"v","type":"quantitative"}}},
{"data":{"name":"means"},"transform":[{"filter":"datum.p==5 && datum.k=='corr'"},{"fold":["CIV","CV","Adult"],"as":["s","v"]},{"filter":"isValid(datum.v)"},{"lookup":"s","from":{"data":{"name":"stages"},"key":"k","fields":["n"]}}],"mark":{"type":"line","color":"black","strokeWidth":5,"strokeDash":[32,9]},"encoding":{"x":{"field":"n","type":"quantitative"},"y":{"field":"v","type":"quantitative"}}},
{"data":{"name":"means"},"transform":[{"filter":"datum.p==5 && datum.k=='mean'"},{"fold":["CIV","CV","Adult"],"as":["s","v"]},{"filter":"isValid(datum.v)"},{"lookup":"s","from":{"data":{"name":"stages"},"key":"k","fields":["n"]}}],"mark":{"type":"point","shape":"circle","filled":true,"fill":"white","stroke":"black","strokeWidth":2,"size":215,"opacity":1},"encoding":{"x":{"field":"n","type":"quantitative"},"y":{"field":"v","type":"quantitative"}}},
{"data":{"name":"means"},"transform":[{"filter":"datum.p==5 && datum.k=='corr'"},{"fold":["CIV","CV","Adult"],"as":["s","v"]},{"filter":"isValid(datum.v)"},{"lookup":"s","from":{"data":{"name":"stages"},"key":"k","fields":["n"]}}],"mark":{"type":"point","shape":"circle","filled":true,"fill":"black","stroke":"black","strokeWidth":1,"size":250,"opacity":1},"encoding":{"x":{"field":"n","type":"quantitative"},"y":{"field":"v","type":"quantitative"}}},
{"data":{"name":"sig"},"transform":[{"filter":"datum.p==5"}],"mark":{"type":"text","font":"Liberation Serif","fontSize":30,"align":"center","baseline":"alphabetic","dx":4,"color":"black"},"encoding":{"x":{"field":"n","type":"quantitative"},"y":{"datum":1.025,"type":"quantitative"},"text":{"field":"lab"}}},
{"data":{"name":"it"},"transform":[{"filter":"datum.p==5"}],"mark":{"type":"text","fontStyle":"italic","fontSize":31,"align":"left","baseline":"alphabetic","color":"black"},"encoding":{"x":{"field":"x","type":"quantitative"},"y":{"field":"y","type":"quantitative"},"text":{"field":"lab"}}},
{"data":{"name":"up"},"transform":[{"filter":"datum.p==5"}],"mark":{"type":"text","fontSize":31,"align":"left","baseline":"alphabetic","color":"black"},"encoding":{"x":{"field":"x","type":"quantitative"},"y":{"field":"y","type":"quantitative"},"text":{"field":"lab"}}}
]},
{"width":502,"height":362,"layer":[
{"data":{"name":"note"},"transform":[{"filter":"datum.p==6"}],"mark":{"type":"text","color":"#ff0000","fontSize":48,"align":"center","baseline":"alphabetic"},"encoding":{"x":{"field":"x","type":"quantitative"},"y":{"field":"y","type":"quantitative"},"text":{"field":"lab"}}},
{"data":{"name":"bar"},"transform":[{"filter":"datum.p==6"}],"mark":{"type":"rule","color":"#ff0000","strokeWidth":6},"encoding":{"x":{"field":"x","type":"quantitative"},"x2":{"field":"x2"},"y":{"field":"y","type":"quantitative"}}},
{"data":{"name":"lines"},"transform":[{"filter":"datum.p==6"},{"fold":["CIV","CV","Adult"],"as":["k","v"]},{"filter":"isValid(datum.v)"},{"lookup":"k","from":{"data":{"name":"stages"},"key":"k","fields":["n"]}}],"mark":{"type":"line","color":"#c0c0c0","strokeWidth":1.2},"encoding":{"x":{"field":"n","type":"quantitative","scale":{"domain":[0.5,3.5],"nice":false,"zero":false},"axis":{"values":[1,2,3],"labels":false,"title":null}},"y":{"field":"v","type":"quantitative","scale":{"domain":[-0.403,1.147],"nice":false,"zero":false},"axis":{"values":[0,0.5,1],"labels":false,"title":null}},"detail":{"field":"i"}}},
{"data":{"name":"ref"},"transform":[{"filter":"datum.p==6"}],"mark":{"type":"rule","color":"black","strokeWidth":2,"strokeDash":[15,8]},"encoding":{"y":{"field":"v","type":"quantitative"}}},
{"data":{"name":"err"},"transform":[{"filter":"datum.p==6"}],"mark":{"type":"rule","color":"black","strokeWidth":3},"encoding":{"x":{"field":"n","type":"quantitative"},"y":{"field":"lo","type":"quantitative"},"y2":{"field":"hi"}}},
{"data":{"name":"err"},"transform":[{"filter":"datum.p==6"}],"mark":{"type":"tick","orient":"horizontal","color":"black","size":20,"thickness":3,"opacity":1},"encoding":{"x":{"field":"n","type":"quantitative"},"y":{"field":"lo","type":"quantitative"}}},
{"data":{"name":"err"},"transform":[{"filter":"datum.p==6"}],"mark":{"type":"tick","orient":"horizontal","color":"black","size":20,"thickness":3,"opacity":1},"encoding":{"x":{"field":"n","type":"quantitative"},"y":{"field":"hi","type":"quantitative"}}},
{"data":{"name":"means"},"transform":[{"filter":"datum.p==6 && datum.k=='mean'"},{"fold":["CIV","CV","Adult"],"as":["s","v"]},{"filter":"isValid(datum.v)"},{"lookup":"s","from":{"data":{"name":"stages"},"key":"k","fields":["n"]}}],"mark":{"type":"line","color":"black","strokeWidth":5},"encoding":{"x":{"field":"n","type":"quantitative"},"y":{"field":"v","type":"quantitative"}}},
{"data":{"name":"means"},"transform":[{"filter":"datum.p==6 && datum.k=='corr'"},{"fold":["CIV","CV","Adult"],"as":["s","v"]},{"filter":"isValid(datum.v)"},{"lookup":"s","from":{"data":{"name":"stages"},"key":"k","fields":["n"]}}],"mark":{"type":"line","color":"black","strokeWidth":5,"strokeDash":[32,9]},"encoding":{"x":{"field":"n","type":"quantitative"},"y":{"field":"v","type":"quantitative"}}},
{"data":{"name":"means"},"transform":[{"filter":"datum.p==6 && datum.k=='mean'"},{"fold":["CIV","CV","Adult"],"as":["s","v"]},{"filter":"isValid(datum.v)"},{"lookup":"s","from":{"data":{"name":"stages"},"key":"k","fields":["n"]}}],"mark":{"type":"point","shape":"circle","filled":true,"fill":"white","stroke":"black","strokeWidth":2,"size":215,"opacity":1},"encoding":{"x":{"field":"n","type":"quantitative"},"y":{"field":"v","type":"quantitative"}}},
{"data":{"name":"means"},"transform":[{"filter":"datum.p==6 && datum.k=='corr'"},{"fold":["CIV","CV","Adult"],"as":["s","v"]},{"filter":"isValid(datum.v)"},{"lookup":"s","from":{"data":{"name":"stages"},"key":"k","fields":["n"]}}],"mark":{"type":"point","shape":"circle","filled":true,"fill":"black","stroke":"black","strokeWidth":1,"size":250,"opacity":1},"encoding":{"x":{"field":"n","type":"quantitative"},"y":{"field":"v","type":"quantitative"}}},
{"data":{"name":"sig"},"transform":[{"filter":"datum.p==6"}],"mark":{"type":"text","font":"Liberation Serif","fontSize":30,"align":"center","baseline":"alphabetic","dx":4,"color":"black"},"encoding":{"x":{"field":"n","type":"quantitative"},"y":{"datum":1.025,"type":"quantitative"},"text":{"field":"lab"}}},
{"data":{"name":"it"},"transform":[{"filter":"datum.p==6"}],"mark":{"type":"text","fontStyle":"italic","fontSize":31,"align":"left","baseline":"alphabetic","color":"black"},"encoding":{"x":{"field":"x","type":"quantitative"},"y":{"field":"y","type":"quantitative"},"text":{"field":"lab"}}},
{"data":{"name":"up"},"transform":[{"filter":"datum.p==6"}],"mark":{"type":"text","fontSize":31,"align":"left","baseline":"alphabetic","color":"black"},"encoding":{"x":{"field":"x","type":"quantitative"},"y":{"field":"y","type":"quantitative"},"text":{"field":"lab"}}}
]},
{"width":502,"height":362,"layer":[
{"data":{"name":"note"},"transform":[{"filter":"datum.p==7"}],"mark":{"type":"text","color":"#3333cc","fontSize":48,"align":"center","baseline":"alphabetic"},"encoding":{"x":{"field":"x","type":"quantitative"},"y":{"field":"y","type":"quantitative"},"text":{"field":"lab"}}},
{"data":{"name":"bar"},"transform":[{"filter":"datum.p==7"}],"mark":{"type":"rule","color":"#3333cc","strokeWidth":6},"encoding":{"x":{"field":"x","type":"quantitative"},"x2":{"field":"x2"},"y":{"field":"y","type":"quantitative"}}},
{"data":{"name":"lines"},"transform":[{"filter":"datum.p==7"},{"fold":["CIV","CV","Adult"],"as":["k","v"]},{"filter":"isValid(datum.v)"},{"lookup":"k","from":{"data":{"name":"stages"},"key":"k","fields":["n"]}}],"mark":{"type":"line","color":"#c0c0c0","strokeWidth":1.2},"encoding":{"x":{"field":"n","type":"quantitative","scale":{"domain":[0.5,3.5],"nice":false,"zero":false},"axis":{"values":[1,2,3],"labelExpr":"datum.value==1?'CIV':datum.value==2?'CV':'Adult'","title":"Stage"}},"y":{"field":"v","type":"quantitative","scale":{"domain":[-0.403,1.147],"nice":false,"zero":false},"axis":{"values":[0,0.5,1],"format":".1f","title":null}},"detail":{"field":"i"}}},
{"data":{"name":"ref"},"transform":[{"filter":"datum.p==7"}],"mark":{"type":"rule","color":"black","strokeWidth":2,"strokeDash":[15,8]},"encoding":{"y":{"field":"v","type":"quantitative"}}},
{"data":{"name":"err"},"transform":[{"filter":"datum.p==7"}],"mark":{"type":"rule","color":"black","strokeWidth":3},"encoding":{"x":{"field":"n","type":"quantitative"},"y":{"field":"lo","type":"quantitative"},"y2":{"field":"hi"}}},
{"data":{"name":"err"},"transform":[{"filter":"datum.p==7"}],"mark":{"type":"tick","orient":"horizontal","color":"black","size":20,"thickness":3,"opacity":1},"encoding":{"x":{"field":"n","type":"quantitative"},"y":{"field":"lo","type":"quantitative"}}},
{"data":{"name":"err"},"transform":[{"filter":"datum.p==7"}],"mark":{"type":"tick","orient":"horizontal","color":"black","size":20,"thickness":3,"opacity":1},"encoding":{"x":{"field":"n","type":"quantitative"},"y":{"field":"hi","type":"quantitative"}}},
{"data":{"name":"means"},"transform":[{"filter":"datum.p==7 && datum.k=='mean'"},{"fold":["CIV","CV","Adult"],"as":["s","v"]},{"filter":"isValid(datum.v)"},{"lookup":"s","from":{"data":{"name":"stages"},"key":"k","fields":["n"]}}],"mark":{"type":"line","color":"black","strokeWidth":5},"encoding":{"x":{"field":"n","type":"quantitative"},"y":{"field":"v","type":"quantitative"}}},
{"data":{"name":"means"},"transform":[{"filter":"datum.p==7 && datum.k=='corr'"},{"fold":["CIV","CV","Adult"],"as":["s","v"]},{"filter":"isValid(datum.v)"},{"lookup":"s","from":{"data":{"name":"stages"},"key":"k","fields":["n"]}}],"mark":{"type":"line","color":"black","strokeWidth":5,"strokeDash":[32,9]},"encoding":{"x":{"field":"n","type":"quantitative"},"y":{"field":"v","type":"quantitative"}}},
{"data":{"name":"means"},"transform":[{"filter":"datum.p==7 && datum.k=='mean'"},{"fold":["CIV","CV","Adult"],"as":["s","v"]},{"filter":"isValid(datum.v)"},{"lookup":"s","from":{"data":{"name":"stages"},"key":"k","fields":["n"]}}],"mark":{"type":"point","strokeWidth":2,"size":215,"opacity":1},"encoding":{"x":{"field":"n","type":"quantitative"},"y":{"field":"v","type":"quantitative"},
 "shape":{"field":"k","type":"nominal","scale":{"domain":["line","mean"],"range":["M-4,0H5.1","circle"]},"legend":{"orient":"none","legendX":12,"legendY":458,"direction":"horizontal","title":null,"labelFont":"Liberation Sans","labelFontSize":29,"labelColor":"black","labelLimit":2000,"symbolSize":200,"symbolStrokeWidth":2,"labelOffset":36,"columnPadding":29,"labelExpr":"datum.value=='line'?'lines joining point measures of field sex ratios':'mean sex ratio'","encode":{"labels":{"update":{"fontSize":{"signal":"datum.value=='line'?29:30.8"}}}}}},
 "fill":{"field":"k","type":"nominal","scale":{"domain":["line","mean"],"range":["transparent","white"]},"legend":{"orient":"none","legendX":12,"legendY":458,"direction":"horizontal","title":null,"labelFont":"Liberation Sans","labelFontSize":29,"labelColor":"black","labelLimit":2000,"symbolSize":200,"symbolStrokeWidth":2,"labelOffset":36,"columnPadding":29,"labelExpr":"datum.value=='line'?'lines joining point measures of field sex ratios':'mean sex ratio'","encode":{"labels":{"update":{"fontSize":{"signal":"datum.value=='line'?29:30.8"}}}}}},
 "stroke":{"field":"k","type":"nominal","scale":{"domain":["line","mean"],"range":["#c0c0c0","black"]},"legend":{"orient":"none","legendX":12,"legendY":458,"direction":"horizontal","title":null,"labelFont":"Liberation Sans","labelFontSize":29,"labelColor":"black","labelLimit":2000,"symbolSize":200,"symbolStrokeWidth":2,"labelOffset":36,"columnPadding":29,"labelExpr":"datum.value=='line'?'lines joining point measures of field sex ratios':'mean sex ratio'","encode":{"labels":{"update":{"fontSize":{"signal":"datum.value=='line'?29:30.8"}}}}}}}},
{"data":{"name":"means"},"transform":[{"filter":"datum.p==7 && datum.k=='corr'"},{"fold":["CIV","CV","Adult"],"as":["s","v"]},{"filter":"isValid(datum.v)"},{"lookup":"s","from":{"data":{"name":"stages"},"key":"k","fields":["n"]}}],"mark":{"type":"point","filled":true,"stroke":"black","strokeWidth":1,"size":250,"opacity":1},"encoding":{"x":{"field":"n","type":"quantitative"},"y":{"field":"v","type":"quantitative"},
 "color":{"field":"k","type":"nominal","scale":{"domain":["corr"],"range":["black"]},"legend":{"orient":"none","legendX":1017,"legendY":458,"direction":"horizontal","title":null,"labelFont":"Liberation Sans","labelFontSize":30.8,"labelColor":"black","labelLimit":2000,"symbolSize":200,"symbolStrokeWidth":2,"labelOffset":36,"labelExpr":"'mean sex ratio (duration corrected)'"}}}},
{"data":{"name":"sig"},"transform":[{"filter":"datum.p==7"}],"mark":{"type":"text","font":"Liberation Serif","fontSize":30,"align":"center","baseline":"alphabetic","dx":4,"color":"black"},"encoding":{"x":{"field":"n","type":"quantitative"},"y":{"datum":1.025,"type":"quantitative"},"text":{"field":"lab"}}},
{"data":{"name":"it"},"transform":[{"filter":"datum.p==7"}],"mark":{"type":"text","fontStyle":"italic","fontSize":31,"align":"left","baseline":"alphabetic","color":"black"},"encoding":{"x":{"field":"x","type":"quantitative"},"y":{"field":"y","type":"quantitative"},"text":{"field":"lab"}}},
{"data":{"name":"up"},"transform":[{"filter":"datum.p==7"}],"mark":{"type":"text","fontSize":31,"align":"left","baseline":"alphabetic","color":"black"},"encoding":{"x":{"field":"x","type":"quantitative"},"y":{"field":"y","type":"quantitative"},"text":{"field":"lab"}}}
]},
{"width":502,"height":362,"layer":[
{"data":{"name":"lines"},"transform":[{"filter":"datum.p==8"},{"fold":["CIV","CV","Adult"],"as":["k","v"]},{"filter":"isValid(datum.v)"},{"lookup":"k","from":{"data":{"name":"stages"},"key":"k","fields":["n"]}}],"mark":{"type":"line","color":"#c0c0c0","strokeWidth":1.2},"encoding":{"x":{"field":"n","type":"quantitative","scale":{"domain":[0.5,3.5],"nice":false,"zero":false},"axis":{"values":[1,2,3],"labelExpr":"datum.value==1?'CIV':datum.value==2?'CV':'Adult'","title":"Stage"}},"y":{"field":"v","type":"quantitative","scale":{"domain":[-0.403,1.147],"nice":false,"zero":false},"axis":{"values":[0,0.5,1],"labels":false,"title":null}},"detail":{"field":"i"}}},
{"data":{"name":"ref"},"transform":[{"filter":"datum.p==8"}],"mark":{"type":"rule","color":"black","strokeWidth":2,"strokeDash":[15,8]},"encoding":{"y":{"field":"v","type":"quantitative"}}},
{"data":{"name":"err"},"transform":[{"filter":"datum.p==8"}],"mark":{"type":"rule","color":"black","strokeWidth":3},"encoding":{"x":{"field":"n","type":"quantitative"},"y":{"field":"lo","type":"quantitative"},"y2":{"field":"hi"}}},
{"data":{"name":"err"},"transform":[{"filter":"datum.p==8"}],"mark":{"type":"tick","orient":"horizontal","color":"black","size":20,"thickness":3,"opacity":1},"encoding":{"x":{"field":"n","type":"quantitative"},"y":{"field":"lo","type":"quantitative"}}},
{"data":{"name":"err"},"transform":[{"filter":"datum.p==8"}],"mark":{"type":"tick","orient":"horizontal","color":"black","size":20,"thickness":3,"opacity":1},"encoding":{"x":{"field":"n","type":"quantitative"},"y":{"field":"hi","type":"quantitative"}}},
{"data":{"name":"means"},"transform":[{"filter":"datum.p==8 && datum.k=='mean'"},{"fold":["CIV","CV","Adult"],"as":["s","v"]},{"filter":"isValid(datum.v)"},{"lookup":"s","from":{"data":{"name":"stages"},"key":"k","fields":["n"]}}],"mark":{"type":"line","color":"black","strokeWidth":5},"encoding":{"x":{"field":"n","type":"quantitative"},"y":{"field":"v","type":"quantitative"}}},
{"data":{"name":"means"},"transform":[{"filter":"datum.p==8 && datum.k=='corr'"},{"fold":["CIV","CV","Adult"],"as":["s","v"]},{"filter":"isValid(datum.v)"},{"lookup":"s","from":{"data":{"name":"stages"},"key":"k","fields":["n"]}}],"mark":{"type":"line","color":"black","strokeWidth":5,"strokeDash":[32,9]},"encoding":{"x":{"field":"n","type":"quantitative"},"y":{"field":"v","type":"quantitative"}}},
{"data":{"name":"means"},"transform":[{"filter":"datum.p==8 && datum.k=='mean'"},{"fold":["CIV","CV","Adult"],"as":["s","v"]},{"filter":"isValid(datum.v)"},{"lookup":"s","from":{"data":{"name":"stages"},"key":"k","fields":["n"]}}],"mark":{"type":"point","shape":"circle","filled":true,"fill":"white","stroke":"black","strokeWidth":2,"size":215,"opacity":1},"encoding":{"x":{"field":"n","type":"quantitative"},"y":{"field":"v","type":"quantitative"}}},
{"data":{"name":"means"},"transform":[{"filter":"datum.p==8 && datum.k=='corr'"},{"fold":["CIV","CV","Adult"],"as":["s","v"]},{"filter":"isValid(datum.v)"},{"lookup":"s","from":{"data":{"name":"stages"},"key":"k","fields":["n"]}}],"mark":{"type":"point","shape":"circle","filled":true,"fill":"black","stroke":"black","strokeWidth":1,"size":250,"opacity":1},"encoding":{"x":{"field":"n","type":"quantitative"},"y":{"field":"v","type":"quantitative"}}},
{"data":{"name":"sig"},"transform":[{"filter":"datum.p==8"}],"mark":{"type":"text","font":"Liberation Serif","fontSize":30,"align":"center","baseline":"alphabetic","dx":4,"color":"black"},"encoding":{"x":{"field":"n","type":"quantitative"},"y":{"datum":1.025,"type":"quantitative"},"text":{"field":"lab"}}},
{"data":{"name":"it"},"transform":[{"filter":"datum.p==8"}],"mark":{"type":"text","fontStyle":"italic","fontSize":31,"align":"left","baseline":"alphabetic","color":"black"},"encoding":{"x":{"field":"x","type":"quantitative"},"y":{"field":"y","type":"quantitative"},"text":{"field":"lab"}}},
{"data":{"name":"up"},"transform":[{"filter":"datum.p==8"}],"mark":{"type":"text","fontSize":31,"align":"left","baseline":"alphabetic","color":"black"},"encoding":{"x":{"field":"x","type":"quantitative"},"y":{"field":"y","type":"quantitative"},"text":{"field":"lab"}}}
]},
{"width":502,"height":362,"layer":[
{"data":{"name":"note"},"transform":[{"filter":"datum.p==9"}],"mark":{"type":"text","color":"#3333cc","fontSize":48,"align":"center","baseline":"alphabetic"},"encoding":{"x":{"field":"x","type":"quantitative"},"y":{"field":"y","type":"quantitative"},"text":{"field":"lab"}}},
{"data":{"name":"bar"},"transform":[{"filter":"datum.p==9"}],"mark":{"type":"rule","color":"#0000ff","strokeWidth":6},"encoding":{"x":{"field":"x","type":"quantitative"},"x2":{"field":"x2"},"y":{"field":"y","type":"quantitative"}}},
{"data":{"name":"lines"},"transform":[{"filter":"datum.p==9"},{"fold":["CIV","CV","Adult"],"as":["k","v"]},{"filter":"isValid(datum.v)"},{"lookup":"k","from":{"data":{"name":"stages"},"key":"k","fields":["n"]}}],"mark":{"type":"line","color":"#c0c0c0","strokeWidth":1.2},"encoding":{"x":{"field":"n","type":"quantitative","scale":{"domain":[0.5,3.5],"nice":false,"zero":false},"axis":{"values":[1,2,3],"labelExpr":"datum.value==1?'CIV':datum.value==2?'CV':'Adult'","title":"Stage"}},"y":{"field":"v","type":"quantitative","scale":{"domain":[-0.403,1.147],"nice":false,"zero":false},"axis":{"values":[0,0.5,1],"labels":false,"title":null}},"detail":{"field":"i"}}},
{"data":{"name":"ref"},"transform":[{"filter":"datum.p==9"}],"mark":{"type":"rule","color":"black","strokeWidth":2,"strokeDash":[15,8]},"encoding":{"y":{"field":"v","type":"quantitative"}}},
{"data":{"name":"err"},"transform":[{"filter":"datum.p==9"}],"mark":{"type":"rule","color":"black","strokeWidth":3},"encoding":{"x":{"field":"n","type":"quantitative"},"y":{"field":"lo","type":"quantitative"},"y2":{"field":"hi"}}},
{"data":{"name":"err"},"transform":[{"filter":"datum.p==9"}],"mark":{"type":"tick","orient":"horizontal","color":"black","size":20,"thickness":3,"opacity":1},"encoding":{"x":{"field":"n","type":"quantitative"},"y":{"field":"lo","type":"quantitative"}}},
{"data":{"name":"err"},"transform":[{"filter":"datum.p==9"}],"mark":{"type":"tick","orient":"horizontal","color":"black","size":20,"thickness":3,"opacity":1},"encoding":{"x":{"field":"n","type":"quantitative"},"y":{"field":"hi","type":"quantitative"}}},
{"data":{"name":"means"},"transform":[{"filter":"datum.p==9 && datum.k=='mean'"},{"fold":["CIV","CV","Adult"],"as":["s","v"]},{"filter":"isValid(datum.v)"},{"lookup":"s","from":{"data":{"name":"stages"},"key":"k","fields":["n"]}}],"mark":{"type":"line","color":"black","strokeWidth":5},"encoding":{"x":{"field":"n","type":"quantitative"},"y":{"field":"v","type":"quantitative"}}},
{"data":{"name":"means"},"transform":[{"filter":"datum.p==9 && datum.k=='corr'"},{"fold":["CIV","CV","Adult"],"as":["s","v"]},{"filter":"isValid(datum.v)"},{"lookup":"s","from":{"data":{"name":"stages"},"key":"k","fields":["n"]}}],"mark":{"type":"line","color":"black","strokeWidth":5,"strokeDash":[32,9]},"encoding":{"x":{"field":"n","type":"quantitative"},"y":{"field":"v","type":"quantitative"}}},
{"data":{"name":"means"},"transform":[{"filter":"datum.p==9 && datum.k=='mean'"},{"fold":["CIV","CV","Adult"],"as":["s","v"]},{"filter":"isValid(datum.v)"},{"lookup":"s","from":{"data":{"name":"stages"},"key":"k","fields":["n"]}}],"mark":{"type":"point","shape":"circle","filled":true,"fill":"white","stroke":"black","strokeWidth":2,"size":215,"opacity":1},"encoding":{"x":{"field":"n","type":"quantitative"},"y":{"field":"v","type":"quantitative"}}},
{"data":{"name":"means"},"transform":[{"filter":"datum.p==9 && datum.k=='corr'"},{"fold":["CIV","CV","Adult"],"as":["s","v"]},{"filter":"isValid(datum.v)"},{"lookup":"s","from":{"data":{"name":"stages"},"key":"k","fields":["n"]}}],"mark":{"type":"point","shape":"circle","filled":true,"fill":"black","stroke":"black","strokeWidth":1,"size":250,"opacity":1},"encoding":{"x":{"field":"n","type":"quantitative"},"y":{"field":"v","type":"quantitative"}}},
{"data":{"name":"sig"},"transform":[{"filter":"datum.p==9"}],"mark":{"type":"text","font":"Liberation Serif","fontSize":30,"align":"center","baseline":"alphabetic","dx":4,"color":"black"},"encoding":{"x":{"field":"n","type":"quantitative"},"y":{"datum":1.025,"type":"quantitative"},"text":{"field":"lab"}}},
{"data":{"name":"it"},"transform":[{"filter":"datum.p==9"}],"mark":{"type":"text","fontStyle":"italic","fontSize":31,"align":"left","baseline":"alphabetic","color":"black"},"encoding":{"x":{"field":"x","type":"quantitative"},"y":{"field":"y","type":"quantitative"},"text":{"field":"lab"}}},
{"data":{"name":"up"},"transform":[{"filter":"datum.p==9"}],"mark":{"type":"text","fontSize":31,"align":"left","baseline":"alphabetic","color":"black"},"encoding":{"x":{"field":"x","type":"quantitative"},"y":{"field":"y","type":"quantitative"},"text":{"field":"lab"}}}
]}
]
}
